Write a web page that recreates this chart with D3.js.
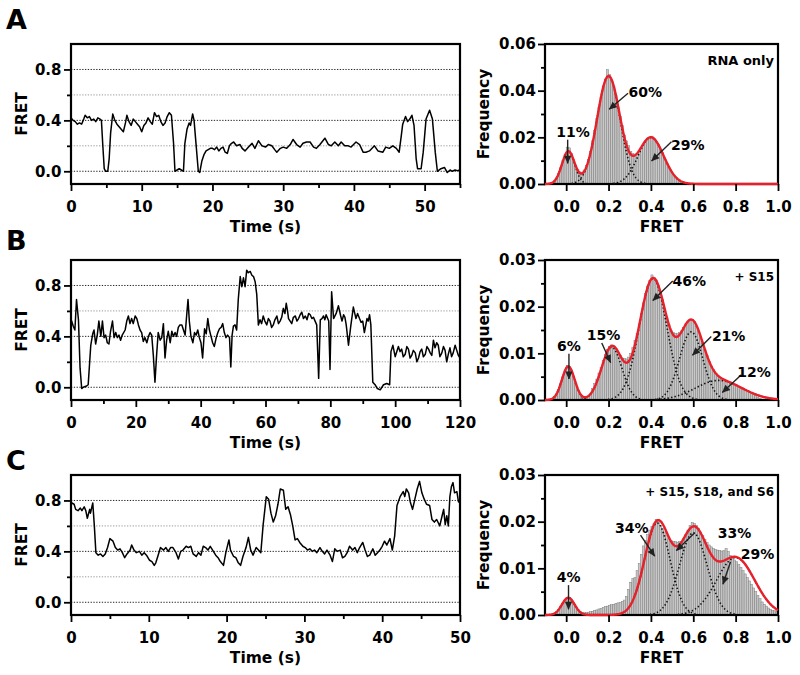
<!DOCTYPE html>
<html><head><meta charset="utf-8">
<script src="https://cdn.jsdelivr.net/npm/d3@7"></script>
<style>
body{margin:0;background:#fff;}
text{font-family:"DejaVu Sans",Verdana,sans-serif;font-weight:bold;fill:#000;}
</style></head><body>
<svg id="chart" width="800" height="675"></svg>
<script>
// ---------------- DATA ----------------
// smFRET traces: [time (s), FRET]
const traceA = [[0,0.42],[0.3,0.40],[0.6,0.39],[0.9,0.37],[1.2,0.38],[1.5,0.37],[1.8,0.41],[2.0,0.44],[2.3,0.42],[2.6,0.43],[2.9,0.40],[3.2,0.41],[3.5,0.39],[3.8,0.42],[4.1,0.41],[4.3,0.40],[4.5,0.20],[4.7,0.02],[4.9,0.0],[5.2,0.0],[5.4,0.10],[5.6,0.30],[5.9,0.45],[6.2,0.40],[6.5,0.37],[6.8,0.35],[7.1,0.33],[7.4,0.31],[7.7,0.38],[7.9,0.44],[8.2,0.39],[8.5,0.36],[8.8,0.41],[9.1,0.39],[9.4,0.37],[9.7,0.35],[10.0,0.31],[10.3,0.36],[10.6,0.38],[10.9,0.42],[11.2,0.39],[11.5,0.37],[11.8,0.46],[12.1,0.43],[12.4,0.44],[12.7,0.39],[13.0,0.36],[13.3,0.38],[13.6,0.43],[13.9,0.46],[14.2,0.44],[14.5,0.22],[14.7,0.0],[15.0,0.01],[15.3,0.02],[15.6,0.01],[15.9,0.0],[16.1,0.22],[16.4,0.33],[16.7,0.38],[16.9,0.36],[17.2,0.45],[17.4,0.40],[17.7,0.20],[18.0,0.0],[18.2,-0.01],[18.5,0.08],[18.8,0.13],[19.1,0.16],[19.4,0.17],[19.7,0.18],[20.0,0.18],[20.3,0.17],[20.6,0.19],[20.9,0.16],[21.2,0.18],[21.5,0.19],[21.8,0.15],[22.1,0.14],[22.4,0.20],[22.7,0.22],[23.0,0.23],[23.4,0.20],[23.9,0.21],[24.2,0.18],[24.6,0.16],[25.1,0.19],[25.6,0.22],[26.0,0.18],[26.5,0.24],[27.0,0.20],[27.5,0.19],[27.9,0.21],[28.4,0.20],[28.8,0.17],[29.1,0.15],[29.6,0.18],[30.0,0.19],[30.5,0.18],[31.0,0.21],[31.4,0.25],[31.9,0.21],[32.4,0.19],[32.8,0.22],[33.3,0.23],[33.8,0.23],[34.3,0.19],[34.7,0.18],[35.2,0.21],[35.9,0.26],[36.4,0.21],[36.8,0.20],[37.3,0.23],[37.8,0.20],[38.2,0.23],[38.7,0.20],[39.2,0.20],[39.6,0.19],[40.3,0.23],[40.8,0.21],[41.3,0.15],[41.7,0.15],[42.2,0.16],[42.9,0.20],[43.4,0.16],[44.1,0.15],[44.5,0.19],[45.0,0.18],[45.5,0.20],[46.0,0.18],[46.4,0.15],[46.7,0.28],[46.9,0.37],[47.3,0.43],[47.6,0.39],[47.9,0.41],[48.2,0.44],[48.5,0.36],[48.8,0.10],[49.0,0.02],[49.5,0.02],[49.8,0.15],[50.2,0.41],[50.7,0.48],[51.1,0.41],[51.5,0.15],[51.8,0.0],[52.3,0.02],[52.8,0.03],[53.2,-0.01],[53.6,0.01],[53.9,0.0],[54.3,0.01],[54.6,0.005],[55.0,0.01]];

const traceB = [[0,0.50],[0.2,0.52],[0.7,0.48],[1.2,0.45],[1.7,0.69],[2.3,0.53],[2.8,0.15],[3.3,-0.01],[3.8,0.0],[4.8,0.01],[5.3,0.02],[6.1,0.33],[6.7,0.42],[7.1,0.45],[7.6,0.34],[8.1,0.41],[8.6,0.52],[9.2,0.40],[9.7,0.52],[10.2,0.39],[10.7,0.41],[11.2,0.35],[11.7,0.34],[12.2,0.44],[12.8,0.52],[13.3,0.39],[13.8,0.43],[14.3,0.39],[14.8,0.41],[15.3,0.37],[15.8,0.41],[16.7,0.45],[17.2,0.52],[17.7,0.56],[18.2,0.50],[18.7,0.54],[19.2,0.50],[19.8,0.56],[20.3,0.54],[20.8,0.49],[21.3,0.45],[21.8,0.43],[22.3,0.36],[22.8,0.39],[23.4,0.35],[23.9,0.40],[24.4,0.43],[24.9,0.41],[25.4,0.25],[25.9,0.04],[26.4,0.25],[26.9,0.43],[27.5,0.37],[28.0,0.39],[28.5,0.50],[29.0,0.23],[29.5,0.37],[30.0,0.44],[30.6,0.35],[31.1,0.44],[31.6,0.40],[32.1,0.43],[32.6,0.40],[33.1,0.47],[33.6,0.49],[34.2,0.49],[34.7,0.45],[35.2,0.41],[35.7,0.57],[36.1,0.69],[36.5,0.52],[37.0,0.40],[37.6,0.35],[38.1,0.43],[38.6,0.41],[39.1,0.45],[39.6,0.39],[40.1,0.35],[40.6,0.23],[41.2,0.46],[41.7,0.42],[42.2,0.54],[42.7,0.45],[43.2,0.40],[43.7,0.35],[44.2,0.32],[44.8,0.39],[45.3,0.43],[45.8,0.46],[46.3,0.47],[46.8,0.50],[47.3,0.43],[47.8,0.39],[48.3,0.41],[48.9,0.39],[49.3,0.16],[49.7,0.41],[50.1,0.48],[50.6,0.49],[51.1,0.45],[51.6,0.69],[52.2,0.87],[52.7,0.79],[53.2,0.86],[53.7,0.79],[54.2,0.92],[54.7,0.90],[55.3,0.91],[55.8,0.88],[56.3,0.87],[56.8,0.83],[57.3,0.73],[57.8,0.49],[58.3,0.53],[58.8,0.50],[59.3,0.56],[59.8,0.52],[60.4,0.49],[60.9,0.54],[61.4,0.52],[61.9,0.47],[62.4,0.49],[62.9,0.53],[63.5,0.56],[64.0,0.50],[64.5,0.52],[65.0,0.55],[65.5,0.62],[66.0,0.58],[66.4,0.66],[66.8,0.60],[67.1,0.54],[67.6,0.52],[68.1,0.50],[68.6,0.55],[69.2,0.56],[69.7,0.52],[70.2,0.54],[70.7,0.57],[71.2,0.59],[71.7,0.54],[72.3,0.56],[72.8,0.53],[73.3,0.58],[73.8,0.57],[74.3,0.54],[74.8,0.55],[75.3,0.52],[75.8,0.49],[76.4,0.07],[76.9,0.53],[77.4,0.54],[77.9,0.56],[78.3,0.53],[78.7,0.57],[79.5,0.52],[79.9,0.14],[80.4,0.75],[81.0,0.54],[81.8,0.58],[82.5,0.64],[83.2,0.56],[83.6,0.52],[84.1,0.57],[84.5,0.55],[84.9,0.49],[85.6,0.33],[86.3,0.48],[87.1,0.63],[87.9,0.54],[88.4,0.58],[89.0,0.54],[89.5,0.51],[90.0,0.52],[90.5,0.43],[91.3,0.54],[91.7,0.52],[92.1,0.57],[92.5,0.49],[93.1,0.04],[93.8,0.02],[94.5,-0.01],[95.4,-0.02],[96.4,0.02],[97.4,0.03],[98.3,0.02],[98.7,0.28],[99.3,0.33],[100.0,0.24],[101.0,0.32],[101.5,0.28],[102.0,0.30],[102.5,0.24],[103.1,0.26],[103.6,0.32],[104.1,0.30],[104.6,0.23],[105.1,0.25],[105.6,0.29],[106.2,0.27],[106.7,0.20],[107.2,0.23],[107.7,0.28],[108.2,0.30],[108.7,0.24],[109.3,0.26],[109.8,0.32],[110.3,0.30],[110.8,0.27],[111.3,0.25],[111.8,0.37],[112.3,0.31],[112.8,0.35],[113.3,0.33],[113.8,0.24],[114.4,0.27],[114.9,0.32],[115.4,0.29],[115.9,0.20],[116.4,0.26],[116.9,0.31],[117.4,0.24],[117.9,0.27],[118.5,0.33],[119.0,0.29],[119.5,0.25],[120.0,0.23]];

const traceC = [[0,0.79],[0.1,0.78],[0.4,0.77],[0.6,0.73],[0.9,0.72],[1.2,0.74],[1.4,0.72],[1.7,0.75],[1.9,0.72],[2.1,0.66],[2.4,0.73],[2.5,0.70],[2.8,0.78],[3.0,0.60],[3.2,0.39],[3.5,0.37],[3.8,0.38],[4.1,0.36],[4.4,0.38],[4.7,0.43],[5.0,0.50],[5.4,0.48],[5.7,0.43],[6.0,0.41],[6.3,0.42],[6.6,0.39],[6.9,0.35],[7.2,0.38],[7.6,0.41],[7.8,0.45],[8.1,0.41],[8.4,0.39],[8.8,0.40],[9.1,0.37],[9.4,0.39],[9.7,0.37],[10.1,0.33],[10.4,0.32],[10.7,0.29],[10.9,0.31],[11.2,0.37],[11.5,0.43],[11.9,0.41],[12.2,0.43],[12.5,0.40],[12.8,0.43],[13.1,0.43],[13.5,0.39],[13.8,0.34],[14.1,0.40],[14.4,0.41],[14.8,0.44],[15.1,0.43],[15.4,0.44],[15.7,0.38],[16.1,0.36],[16.4,0.39],[16.7,0.37],[17.0,0.44],[17.3,0.43],[17.6,0.41],[17.9,0.44],[18.3,0.40],[18.6,0.37],[18.9,0.35],[19.2,0.32],[19.6,0.29],[19.9,0.39],[20.3,0.49],[20.5,0.41],[20.9,0.36],[21.2,0.35],[21.5,0.31],[21.8,0.29],[22.1,0.36],[22.5,0.43],[22.8,0.51],[23.1,0.41],[23.4,0.37],[23.8,0.43],[24.1,0.41],[24.4,0.39],[24.7,0.61],[25.1,0.83],[25.4,0.81],[25.7,0.70],[26.0,0.63],[26.3,0.68],[26.6,0.77],[26.9,0.89],[27.3,0.88],[27.6,0.73],[27.9,0.75],[28.2,0.69],[28.5,0.60],[28.8,0.49],[29.1,0.50],[29.4,0.47],[29.8,0.44],[30.1,0.43],[30.4,0.41],[30.7,0.42],[31.0,0.40],[31.3,0.41],[31.6,0.39],[32.0,0.43],[32.3,0.40],[32.6,0.38],[32.9,0.41],[33.3,0.37],[33.6,0.32],[33.9,0.42],[34.2,0.40],[34.6,0.41],[34.9,0.35],[35.2,0.36],[35.5,0.39],[35.8,0.44],[36.2,0.41],[36.5,0.43],[36.8,0.39],[37.1,0.43],[37.5,0.47],[37.8,0.41],[38.1,0.36],[38.4,0.37],[38.8,0.42],[39.1,0.37],[39.4,0.39],[39.7,0.41],[40.0,0.44],[40.3,0.48],[40.6,0.45],[41.0,0.50],[41.3,0.41],[41.6,0.52],[41.9,0.76],[42.3,0.83],[42.7,0.87],[42.9,0.83],[43.1,0.89],[43.4,0.86],[43.6,0.79],[43.9,0.73],[44.2,0.81],[44.5,0.89],[44.8,0.95],[45.1,0.86],[45.4,0.81],[45.7,0.77],[46.1,0.76],[46.4,0.65],[46.7,0.63],[47.0,0.65],[47.4,0.60],[47.7,0.68],[47.9,0.73],[48.1,0.61],[48.3,0.68],[48.5,0.60],[48.7,0.83],[48.9,0.91],[49.1,0.94],[49.3,0.86],[49.6,0.87],[49.8,0.79],[50.0,0.78]];

// time axes
const timeMaxes = [55, 120, 50];
const timeMajorA = [0,10,20,30,40,50], timeMinorA = [5,15,25,35,45,55];
const timeMajorB = [0,20,40,60,80,100,120], timeMinorB = [10,30,50,70,90,110];
const timeMajorC = [0,10,20,30,40,50], timeMinorC = [5,15,25,35,45];
const fretMajor = [0.0,0.4,0.8], fretMinor = [0.2,0.6];
const gridStrong = [0.0,0.4,0.8], gridLight = [0.2,0.6];

// histograms: bins of width 0.01 starting at FRET = -0.1
const binStart = -0.1, binWidth = 0.01;
const histA = [0,0.0001,0.0003,0.0006,0.0012,0.0025,0.0046,0.0070,0.0102,0.0128,
 0.0158,0.0155,0.0130,0.0104,0.0080,0.0062,0.0052,0.0050,0.0060,0.0080,
 0.0105,0.0140,0.0185,0.0230,0.0280,0.0330,0.0370,0.0420,0.0450,0.0490,
 0.0470,0.0445,0.0420,0.0380,0.0330,0.0290,0.0250,0.0210,0.0185,0.0165,
 0.0140,0.0130,0.0125,0.0128,0.0140,0.0155,0.0170,0.0185,0.0195,0.0200,
 0.0205,0.0195,0.0180,0.0170,0.0150,0.0135,0.0110,0.0090,0.0070,0.0055,
 0.0040,0.0030,0.0020,0.0015,0.0010,0.0007,0.0004,0.0002,0.0001,0];
const histB = [0,0,0.0001,0.0003,0.0007,0.0013,0.0023,0.0036,0.0051,0.0064,
 0.0074,0.0070,0.0064,0.0051,0.0036,0.0023,0.0013,0.0009,0.0006,0.0006,
 0.0008,0.0013,0.0025,0.0035,0.0045,0.0058,0.0070,0.0085,0.0098,0.0108,
 0.0115,0.0118,0.0116,0.0111,0.0103,0.0095,0.0090,0.0089,0.0088,0.0092,
 0.0100,0.0112,0.0128,0.0142,0.0163,0.0186,0.0208,0.0228,0.0244,0.0256,
 0.0268,0.0262,0.0257,0.0246,0.0232,0.0215,0.0196,0.0178,0.0162,0.0149,
 0.0145,0.0142,0.0142,0.0145,0.0148,0.0155,0.0163,0.0169,0.0172,0.0172,
 0.0168,0.0158,0.0148,0.0135,0.0122,0.0108,0.0095,0.0082,0.0072,0.0065,
 0.0057,0.0053,0.0049,0.0046,0.0044,0.0042,0.0038,0.0036,0.0035,0.0033,
 0.0031,0.0029,0.0026,0.0024,0.0022,0.0020,0.0018,0.0016,0.0014,0.0012,
 0.0006,0.0003,0.0002,0.0001];
const histC = [0,0,0.0001,0.0001,0.0003,0.0006,0.0011,0.0018,0.0026,0.0033,
 0.0037,0.0038,0.0034,0.0027,0.0019,0.0012,0.0008,0.0006,0.0005,0.0005,
 0.0006,0.0007,0.0008,0.0010,0.0011,0.0013,0.0014,0.0016,0.0018,0.0019,
 0.0021,0.0022,0.0023,0.0025,0.0026,0.0027,0.0029,0.0032,0.0040,0.0055,
 0.0070,0.0078,0.0080,0.0095,0.0110,0.0130,0.0148,0.0160,0.0172,0.0182,
 0.0190,0.0197,0.0205,0.0200,0.0192,0.0185,0.0178,0.0170,0.0163,0.0160,
 0.0158,0.0157,0.0156,0.0157,0.0158,0.0163,0.0172,0.0182,0.0192,0.0198,
 0.0196,0.0192,0.0186,0.0178,0.0170,0.0162,0.0155,0.0150,0.0146,0.0142,
 0.0140,0.0139,0.0138,0.0137,0.0138,0.0142,0.0136,0.0128,0.0122,0.0118,
 0.0114,0.0108,0.0102,0.0095,0.0088,0.0080,0.0073,0.0066,0.0058,0.0050,
 0.0042,0.0035,0.0028,0.0023,0.0019,0.0015,0.0012,0.0010,0.0009,0.0008];

// Gaussian fit parameters (centre, amplitude, sigma)
const fitCentersA = [0.01,0.20,0.40], fitAmpsA = [0.0140,0.0462,0.0200], fitSigmasA = [0.03,0.054,0.06];
const fitCentersB = [0.01,0.215,0.41,0.59,0.72], fitAmpsB = [0.0072,0.0113,0.026,0.0146,0.0042], fitSigmasB = [0.03,0.048,0.065,0.055,0.11];
const fitCentersC = [0.01,0.43,0.60,0.80], fitAmpsC = [0.0037,0.0197,0.0176,0.0123], fitSigmasC = [0.03,0.06,0.065,0.09];

const histYMax = [0.06, 0.03, 0.03];
const histYMajorA = [0,0.02,0.04,0.06], histYMinorA = [0.01,0.03,0.05];
const histYMajorBC = [0,0.01,0.02,0.03], histYMinorBC = [0.005,0.015,0.025];
const histXMajor = [0.0,0.2,0.4,0.6,0.8,1.0];

// population labels: text, label anchor (FRET, freq), arrow start/end (FRET, freq)
const labelsA = [
 {t:"11%", x:0.032, y:0.0201, x1:0.007, y1:0.0190, x2:0.007, y2:0.0088},
 {t:"60%", x:0.373, y:0.0373, x1:0.292, y1:0.0389, x2:0.203, y2:0.0320},
 {t:"29%", x:0.574, y:0.0146, x1:0.497, y1:0.0181, x2:0.403, y2:0.0099}];
const labelsB = [
 {t:"6%", x:0.013, y:0.0105, x1:0.013, y1:0.0099, x2:0.013, y2:0.0045},
 {t:"15%", x:0.176, y:0.0129, x1:0.168, y1:0.0122, x2:0.210, y2:0.0080},
 {t:"46%", x:0.581, y:0.0244, x1:0.503, y1:0.0255, x2:0.409, y2:0.0213},
 {t:"21%", x:0.767, y:0.0126, x1:0.685, y1:0.0136, x2:0.596, y2:0.0096},
 {t:"12%", x:0.887, y:0.0049, x1:0.827, y1:0.0054, x2:0.737, y2:0.0016}];
const labelsC = [
 {t:"4%", x:0.012, y:0.0071, x1:0.011, y1:0.0064, x2:0.011, y2:0.0012},
 {t:"34%", x:0.310, y:0.0176, x1:0.351, y1:0.0171, x2:0.418, y2:0.0126},
 {t:"33%", x:0.795, y:0.0165, x1:0.607, y1:0.0176, x2:0.520, y2:0.0138},
 {t:"29%", x:0.903, y:0.0120, x1:0.776, y1:0.0114, x2:0.740, y2:0.0066}];
const conditions = ["RNA only", "+ S15", "+ S15, S18, and S6"];
const panelLetters = ["A","B","C"];

// ---------------- LAYOUT ----------------
const svg = d3.select('#chart');
const tops = [44, 260, 475], PH = 140;
const TX0 = 71, TX1 = 460, HX0 = 545, HX1 = 778;
const letterBaselines = [29, 250, 470];

const defs = svg.append('defs');
defs.append('marker').attr('id','arrowhead').attr('viewBox','0 0 10 10')
  .attr('refX',9.5).attr('refY',5).attr('markerWidth',9).attr('markerHeight',8)
  .attr('markerUnits','userSpaceOnUse').attr('orient','auto')
  .append('path').attr('d','M0,0.5 L10,5 L0,9.5 Z').attr('fill','#222');

function styleAxis(g, fs){
  g.select('.domain').remove();
  g.attr('font-size', fs).attr('font-family', null);
  g.selectAll('.tick line').attr('stroke','#000').attr('stroke-width',1.8);
  g.selectAll('.tick text').attr('fill','#000');
}

function drawTrace(i, data, xMajor, xMinor){
  const top = tops[i], bottom = top + PH;
  const g = svg.append('g');
  const x = d3.scaleLinear().domain([0, timeMaxes[i]]).range([TX0, TX1]);
  const y = d3.scaleLinear().domain([-0.1, 1.0]).range([bottom, top]);
  g.selectAll('line.gl').data(gridLight).join('line').attr('class','gl')
    .attr('x1',TX0).attr('x2',TX1).attr('y1',d=>y(d)).attr('y2',d=>y(d))
    .attr('stroke','#9c9c9c').attr('stroke-width',1).attr('stroke-dasharray','1.3,1.5');
  g.selectAll('line.gs').data(gridStrong).join('line').attr('class','gs')
    .attr('x1',TX0).attr('x2',TX1).attr('y1',d=>y(d)).attr('y2',d=>y(d))
    .attr('stroke','#222').attr('stroke-width',1).attr('stroke-dasharray','1.3,1.5');
  const sorted = d3.sort(data, d=>d[0]);
  g.append('path').datum(sorted)
    .attr('d', d3.line().x(d=>x(d[0])).y(d=>y(d[1])))
    .attr('fill','none').attr('stroke','#000').attr('stroke-width',1.5).attr('stroke-linejoin','round');
  g.append('rect').attr('x',TX0).attr('y',top).attr('width',TX1-TX0).attr('height',PH)
    .attr('fill','none').attr('stroke','#000').attr('stroke-width',2.2);
  // y axis
  g.append('g').attr('transform',`translate(${TX0},0)`)
    .call(d3.axisLeft(y).tickValues(fretMajor).tickFormat(d3.format('.1f')).tickSize(7).tickPadding(2.5))
    .call(a=>styleAxis(a,15));
  g.append('g').attr('transform',`translate(${TX0},0)`)
    .call(d3.axisLeft(y).tickValues(fretMinor).tickFormat('').tickSize(4))
    .call(a=>styleAxis(a,15));
  // x axis
  g.append('g').attr('transform',`translate(0,${bottom})`)
    .call(d3.axisBottom(x).tickValues(xMajor).tickFormat(d3.format('d')).tickSize(7).tickPadding(10.5))
    .call(a=>styleAxis(a,15));
  g.append('g').attr('transform',`translate(0,${bottom})`)
    .call(d3.axisBottom(x).tickValues(xMinor).tickFormat('').tickSize(4))
    .call(a=>styleAxis(a,15));
  // titles
  g.append('text').attr('transform',`translate(27,${top+PH/2}) rotate(-90)`)
    .attr('text-anchor','middle').attr('font-size',15.5).text('FRET');
  g.append('text').attr('x',(TX0+TX1)/2).attr('y',bottom+47.5)
    .attr('text-anchor','middle').attr('font-size',15.5).text('Time (s)');
  // panel letter
  svg.append('text').attr('x',6).attr('y',letterBaselines[i]).attr('font-size',27).text(panelLetters[i]);
}

function gauss(v, c, a, s){ return a*Math.exp(-0.5*((v-c)/s)*((v-c)/s)); }

function drawHist(i, hist, centers, amps, sigmas, yMajor, yMinor, labels, condFs){
  const top = tops[i], bottom = top + PH;
  const g = svg.append('g');
  const x = d3.scaleLinear().domain([-0.1, 1.0]).range([HX0, HX1]);
  const y = d3.scaleLinear().domain([0, histYMax[i]]).range([bottom, top]);
  // bars
  g.selectAll('rect.bar').data(hist).join('rect').attr('class','bar')
    .attr('x',(d,k)=>x(binStart+k*binWidth))
    .attr('width',(d,k)=>x(binStart+(k+1)*binWidth)-x(binStart+k*binWidth))
    .attr('y',d=>y(d)).attr('height',d=>bottom-y(d))
    .attr('fill','#c8c8c8').attr('stroke','#7d7d7d').attr('stroke-width',0.5);
  g.append('rect').attr('x',HX0).attr('y',top).attr('width',HX1-HX0).attr('height',PH)
    .attr('fill','none').attr('stroke','#000').attr('stroke-width',2.2);
  // fit curves
  const xs = d3.range(0, 441).map(k => -0.1 + k*0.0025);
  const line = d3.line().x(d=>x(d[0])).y(d=>y(d[1]));
  centers.forEach((c,k)=>{
    const pts = xs.map(v=>[v, gauss(v, c, amps[k], sigmas[k])]).filter(p=>p[1]>histYMax[i]*0.004);
    g.append('path').datum(pts).attr('d',line).attr('fill','none')
      .attr('stroke','#111').attr('stroke-width',1.6).attr('stroke-dasharray','1.4,2.2');
  });
  const sumPts = xs.map(v=>[v, d3.sum(centers,(c,k)=>gauss(v,c,amps[k],sigmas[k]))]);
  g.append('path').datum(sumPts).attr('d',line).attr('fill','none')
    .attr('stroke','#e8202a').attr('stroke-width',2.4).attr('stroke-linejoin','round');
  // axes
  g.append('g').attr('transform',`translate(${HX0},0)`)
    .call(d3.axisLeft(y).tickValues(yMajor).tickFormat(d3.format('.2f')).tickSize(7).tickPadding(2))
    .call(a=>styleAxis(a,15));
  g.append('g').attr('transform',`translate(${HX0},0)`)
    .call(d3.axisLeft(y).tickValues(yMinor).tickFormat('').tickSize(4))
    .call(a=>styleAxis(a,15));
  g.append('g').attr('transform',`translate(0,${bottom})`)
    .call(d3.axisBottom(x).tickValues(histXMajor).tickFormat(d3.format('.1f')).tickSize(7).tickPadding(10.5))
    .call(a=>styleAxis(a,15));
  // titles
  g.append('text').attr('transform',`translate(489,${top+PH/2}) rotate(-90)`)
    .attr('text-anchor','middle').attr('font-size',15.5).text('Frequency');
  g.append('text').attr('x',(HX0+HX1)/2).attr('y',bottom+47.5)
    .attr('text-anchor','middle').attr('font-size',15.5).text('FRET');
  // condition label
  g.append('text').attr('x',HX1-4).attr('y',top+21).attr('text-anchor','end')
    .attr('font-size',condFs).text(conditions[i]);
  // population labels + arrows
  labels.forEach(l=>{
    g.append('line').attr('x1',x(l.x1)).attr('y1',y(l.y1)).attr('x2',x(l.x2)).attr('y2',y(l.y2))
      .attr('stroke','#222').attr('stroke-width',1.4).attr('marker-end','url(#arrowhead)');
    g.append('text').attr('x',x(l.x)).attr('y',y(l.y)).attr('text-anchor','middle')
      .attr('font-size',14).attr('fill','#222').text(l.t);
  });
}

drawTrace(0, traceA, timeMajorA, timeMinorA);
drawTrace(1, traceB, timeMajorB, timeMinorB);
drawTrace(2, traceC, timeMajorC, timeMinorC);
drawHist(0, histA, fitCentersA, fitAmpsA, fitSigmasA, histYMajorA, histYMinorA, labelsA, 13);
drawHist(1, histB, fitCentersB, fitAmpsB, fitSigmasB, histYMajorBC, histYMinorBC, labelsB, 12);
drawHist(2, histC, fitCentersC, fitAmpsC, fitSigmasC, histYMajorBC, histYMinorBC, labelsC, 12);
</script>
</body></html>
